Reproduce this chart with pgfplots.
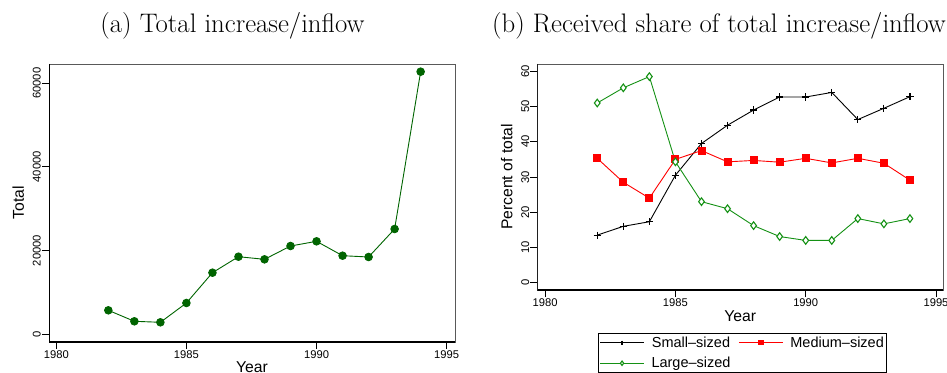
\documentclass[border=0pt]{standalone}
\usepackage{fontspec}
\usepackage{pgfplots}
\pgfplotsset{compat=1.18}
\newfontfamily\arial{Liberation Sans}
\definecolor{dkg}{RGB}{0,100,0}
\definecolor{lgreen}{RGB}{20,145,20}
\definecolor{sred}{RGB}{255,0,0}
\begin{document}
\begin{tikzpicture}
\pgfplotsset{
  every axis/.append style={
    scale only axis,
    axis line style={black!65, line width=0.8pt},
    tick style={black, line width=0.8pt},
    tick align=outside, tick pos=left,
    major tick length=7pt,
    /pgf/number format/assume math mode=true,
    /pgf/number format/set thousands separator={},
    scaled y ticks=false,
    ticklabel style={font=\arial\fontsize{11.2}{12}\selectfont},
    yticklabel style={rotate=90, anchor=south, inner sep=1pt},
    xticklabel style={anchor=north, inner sep=1pt},
    label style={font=\arial\fontsize{15.7}{18}\selectfont},
    xtick={1980,1985,1990,1995},
  }
}
% Left panel
\begin{axis}[
  at={(49pt,30pt)}, anchor=south west,
  width=406pt, height=278pt,
  xmin=1979.72, xmax=1995.32,
  ymin=-1915, ymax=64620,
  ytick={0,20000,40000,60000},
  xlabel={Year}, ylabel={Total},
  xlabel style={at={(axis description cs:0.5,-0.0888)}, anchor=center},
  ylabel style={at={(axis description cs:-0.0756,0.5)}, anchor=center, rotate=0},
]
\addplot[dkg, line width=0.9pt, mark=*, mark size=3.8pt, mark options={fill=dkg, draw=dkg}] coordinates {
(1982,5670) (1983,3040) (1984,2800) (1985,7420) (1986,14670) (1987,18500)
(1988,17870) (1989,21060) (1990,22180) (1991,18740) (1992,18430) (1993,25130) (1994,62780)};
\draw[black, line width=1.2pt] (rel axis cs:0,1) -- (rel axis cs:0,0) -- (rel axis cs:1,0);
\end{axis}
% Right panel
\begin{axis}[
  at={(537.3pt,82pt)}, anchor=south west,
  width=406pt, height=226pt,
  xmin=1979.70, xmax=1995.28,
  ymin=-2.07, ymax=62.07,
  ytick={0,10,20,30,40,50,60},
  xlabel={Year}, ylabel={Percent of total},
  xlabel style={at={(axis description cs:0.5,-0.118)}, anchor=center},
  ylabel style={at={(axis description cs:-0.0754,0.5)}, anchor=center, rotate=0},
  legend columns=2,
  legend style={at={(axis description cs:0.150,-0.1916)}, anchor=north west,
    draw=black, line width=0.8pt, font=\arial\fontsize{14.5}{16}\selectfont,
    inner sep=1pt, row sep=4.5pt,
    /tikz/every odd column/.append style={column sep=5pt},
    /tikz/every even column/.append style={column sep=6pt}},
  legend image code/.code={\draw[mark repeat=2,mark phase=2,#1, mark size=2.2pt] plot coordinates {(0pt,0pt) (22pt,0pt) (44pt,0pt)};},
]
\addplot[black, line width=0.9pt, mark=+, mark size=3.6pt, mark options={line width=1.2pt}] coordinates {
(1982,13.5) (1983,16) (1984,17.3) (1985,30.5) (1986,39.5) (1987,44.7) (1988,49)
(1989,52.7) (1990,52.7) (1991,54) (1992,46.3) (1993,49.5) (1994,52.8)};
\addlegendentry{Small–sized}
\addplot[sred, line width=0.9pt, mark=square*, mark size=3.5pt, mark options={fill=sred, draw=sred}] coordinates {
(1982,35.3) (1983,28.5) (1984,24) (1985,35) (1986,37.5) (1987,34.3) (1988,34.7)
(1989,34.2) (1990,35.3) (1991,34) (1992,35.3) (1993,33.9) (1994,29.1)};
\addlegendentry{Medium–sized}
\addplot[lgreen, line width=0.9pt, mark=diamond*, mark size=3.8pt, mark options={line width=1.1pt, fill=white}] coordinates {
(1982,51) (1983,55.3) (1984,58.5) (1985,34.3) (1986,23) (1987,21) (1988,16.2)
(1989,13.1) (1990,12) (1991,12) (1992,18.2) (1993,16.7) (1994,18.2)};
\addlegendentry{Large–sized}
\draw[black, line width=1.2pt] (rel axis cs:0,1) -- (rel axis cs:0,0) -- (rel axis cs:1,0);
\end{axis}
% Titles
\node[anchor=base, font=\fontsize{26.8}{32}\selectfont] at (232.5pt,339pt) {(a) Total increase/inflow};
\node[anchor=base, font=\fontsize{26.8}{32}\selectfont] at (719pt,339pt) {(b) Received share of total increase/inflow};
\pgfresetboundingbox
\path[use as bounding box] (0pt,0pt) rectangle (947pt,372pt);
\end{tikzpicture}
\end{document}
